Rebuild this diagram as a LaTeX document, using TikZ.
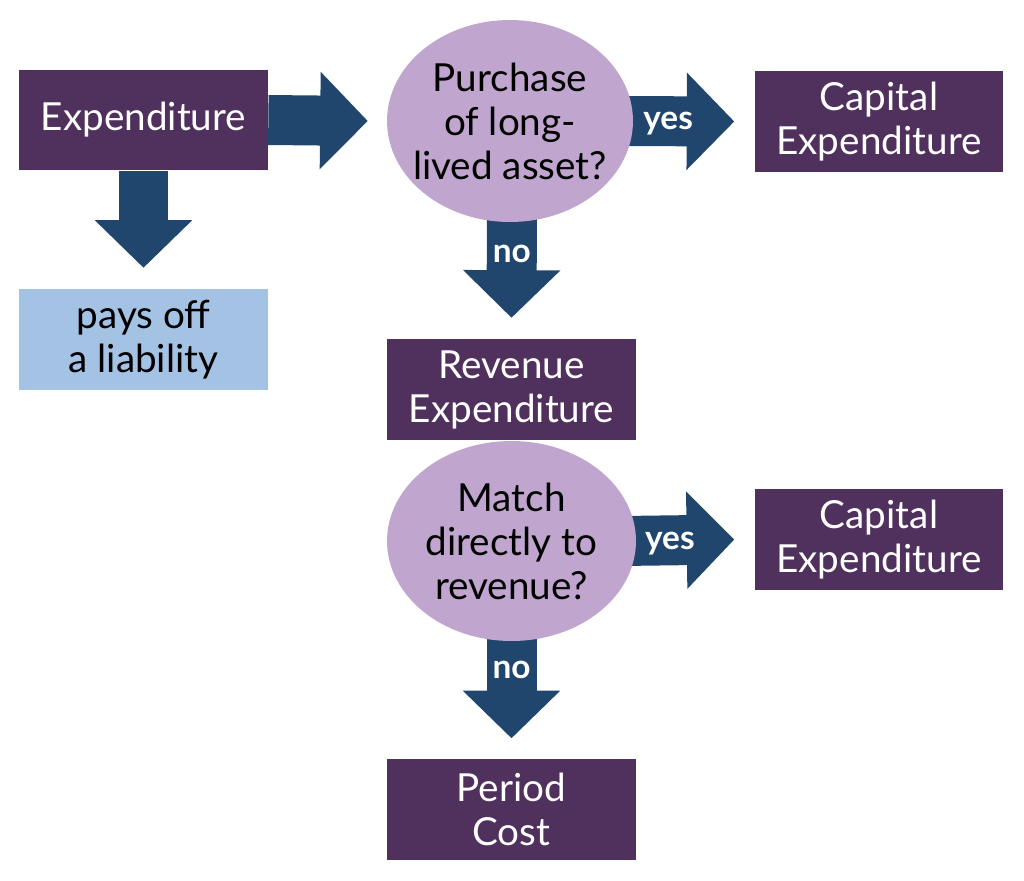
\documentclass[tikz,border=0pt]{standalone}
\usepackage{fontspec}
\setmainfont{Lato}
\usetikzlibrary{shapes.geometric,arrows.meta,calc,backgrounds}
\definecolor{boxpurple}{HTML}{50305C}
\definecolor{arrowblue}{HTML}{21466E}
\definecolor{lilac}{HTML}{C0A5CF}
\definecolor{paleblue}{HTML}{A4C2E3}
\tikzset{
  box/.style={rectangle, fill=boxpurple, text=white, align=center,
    minimum width=4.98cm, minimum height=2.02cm, inner sep=0pt,
    font=\fontsize{22}{25}\selectfont},
  lightbox/.style={box, fill=paleblue, text=black},
  question/.style={ellipse, fill=lilac, text=black, align=center,
    inner xsep=-0.5cm, inner ysep=0pt,
    font=\fontsize{22}{25}\selectfont},
  fat/.style={line width=1cm, arrowblue, line cap=butt,
    -{Triangle[length=0.95cm, width=1.94cm, line width=1.5pt]}},
  lbl/.style={text=white, font=\fontsize{19}{20}\bfseries\selectfont,
    inner sep=0pt, text depth=0pt}
}
\begin{document}
\begin{tikzpicture}[x=0.02cm, y=-0.02cm]
   \useasboundingbox (0,0) rectangle (1024,880);
   % boxes
   \node [box] (exp) at (143.5,120) {Expenditure};
   \node [lightbox] (liab) at (143.5,339.5) {pays off\\a liability};
   \node [question, minimum width=4.92cm, minimum height=4.04cm] (q1) at (510,121)
      {Purchase\\of long-\\lived asset?};
   \node [box] (cap1) at (879,121.5) {Capital\\Expenditure};
   \node [box] (rev) at (511.5,389.5) {Revenue\\Expenditure};
   \node [question, minimum width=4.98cm, minimum height=4cm] (q2) at (511.5,541)
      {Match\\directly to\\revenue?};
   \node [box] (cap2) at (879,539.5) {Capital\\Expenditure};
   \node [box] (per) at (511.5,809) {Period\\Cost};
   % arrows
   \begin{scope}[on background layer]
   \draw [fat] (exp.east) -- ($(q1.west)+(-19,0)$);
   \draw [fat] (exp.south) -- ($(liab.north)+(0,-21)$);
   \draw [fat] ($(q1.east)+(-15,0)$) -- ($(cap1.west)+(-20,0)$)
      node [lbl, pos=0.43] {yes};
   \draw [fat] ($(q1.south)+(2,-15)$) -- ($(rev.north)+(0,-21)$)
      node [lbl, pos=0.42] {no};
   \draw [fat] ($(q2.east)+(-15,0)$) -- ($(cap2.west)+(-20,0)$)
      node [lbl, pos=0.43] {yes};
   \draw [fat] ($(q2.south)+(0,-15)$) -- ($(per.north)+(0,-20)$)
      node [lbl, pos=0.39] {no};
   \end{scope}
 \end{tikzpicture}
\end{document}
